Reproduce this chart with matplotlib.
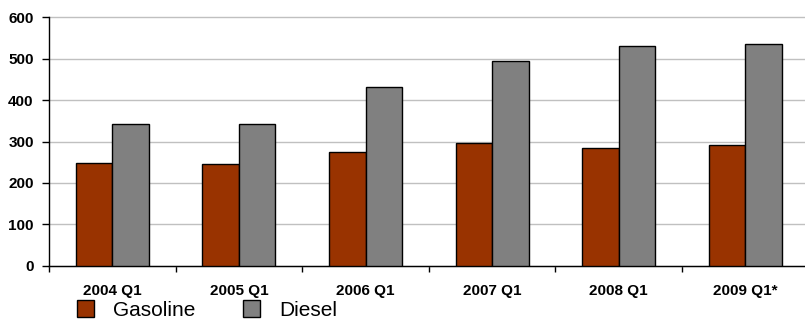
import matplotlib
matplotlib.use("Agg")
import matplotlib.pyplot as plt
from matplotlib.patches import Patch
import numpy as np

plt.rcParams["font.family"] = ["Liberation Sans", "DejaVu Sans"]

# 各季度汽油 / 柴油数据
quarters = ["2004 Q1", "2005 Q1", "2006 Q1", "2007 Q1", "2008 Q1", "2009 Q1*"]
gasoline = [247, 245, 275, 296, 284, 291]
diesel = [343, 343, 433, 494, 532, 535]

GAS_COLOR = "#993300"
DIESEL_COLOR = "#808080"

fig = plt.figure(figsize=(8.05, 3.21), dpi=100)
ax = fig.add_axes([49 / 805, 55.5 / 321, 759.6 / 805, 248 / 321])

x = np.arange(len(quarters))
w = 0.288
ax.bar(x - w / 2, gasoline, width=w, color=GAS_COLOR, edgecolor="black", linewidth=1, zorder=3)
ax.bar(x + w / 2, diesel, width=w, color=DIESEL_COLOR, edgecolor="black", linewidth=1, zorder=3)

ax.set_xlim(-0.5, len(quarters) - 0.5)
ax.set_ylim(0, 600)
ax.set_yticks(range(0, 601, 100))
ax.yaxis.grid(True, color="#c0c0c0", linewidth=1, zorder=0)
for gl in ax.get_ygridlines():
    gl.set_clip_on(False)

# 刻度线在类别分界处，标签在类别中间
ax.set_xticks(np.arange(len(quarters) + 1) - 0.5)
ax.set_xticklabels([])
ax.set_xticks(x, minor=True)
ax.set_xticklabels(quarters, minor=True, fontsize=11, fontweight="bold")
ax.tick_params(axis="x", which="minor", length=0, pad=13)
ax.tick_params(axis="x", which="major", length=4, width=1, direction="out")
ax.tick_params(axis="y", length=5, width=1, labelsize=11, pad=6)
for lbl in ax.get_yticklabels():
    lbl.set_fontweight("bold")

for side in ["top", "right"]:
    ax.spines[side].set_visible(False)
ax.spines["left"].set_linewidth(1)
ax.spines["bottom"].set_linewidth(1)

handles = [
    Patch(facecolor=GAS_COLOR, edgecolor="black", label="Gasoline"),
    Patch(facecolor=DIESEL_COLOR, edgecolor="black", label="Diesel"),
]
fig.legend(handles=handles, loc="center left", bbox_to_anchor=(77 / 805, 11 / 321),
           ncol=2, frameon=False, fontsize=15, handlelength=0.82, handleheight=0.82,
           handletextpad=0.9, columnspacing=2.3, borderpad=0, borderaxespad=0)

fig.savefig("out.png", dpi=100)
